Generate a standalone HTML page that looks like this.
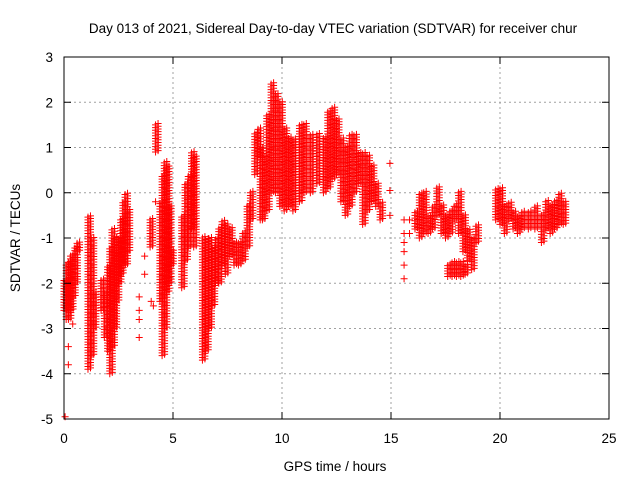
<!DOCTYPE html>
<html><head><meta charset="utf-8">
<style>
html,body{margin:0;padding:0;background:#fff;}
svg{display:block;font-family:"Liberation Sans",sans-serif;}
</style></head>
<body>
<svg id="chart" width="640" height="480" viewBox="0 0 640 480">
<rect width="640" height="480" fill="#fff"/>
<text x="333" y="33" font-size="13.5" text-anchor="middle" fill="#000">Day 013 of 2021, Sidereal Day-to-day VTEC variation (SDTVAR) for receiver chur</text>
<text x="335" y="471" font-size="13.5" text-anchor="middle">GPS time / hours</text>
<text transform="translate(20,238) rotate(-90)" font-size="13.5" text-anchor="middle">SDTVAR / TECUs</text>
<g id="grid"></g>
<g id="marks"></g>
<rect x="64" y="57" width="545" height="362" fill="none" stroke="#000" stroke-width="1"/>
<g id="ticks"></g>
</svg>
<script>
const xTicks = [0, 5, 10, 15, 20, 25];
const yTicks = [3, 2, 1, 0, -1, -2, -3, -4, -5];
// banded series: time (hours), lower and upper SDTVAR per time bin
const binTimes = [0.0,0.1,0.2,0.3,0.4,0.5,0.6, 1.1,1.25,1.35,
 1.7,1.85,2.0,2.1,2.2,2.3,2.4,2.5,2.6,2.7,2.8,2.9,
 3.95,4.2,4.4,4.5,4.6,4.7,4.8,4.9,
 5.4,5.55,5.7,5.85,5.95,
 6.35,6.5,6.65,6.8,6.95,7.1,7.25,7.4,7.6,7.8,8.0,8.2,8.4,8.55,
 8.75,8.9,9.0,9.1,9.3,9.5,9.7,9.9,10.1,10.3,10.5,10.8,11.0,11.3,11.6,11.9,
 12.1,12.3,12.5,12.7,12.9,13.1,13.3,13.5,13.7,13.9,14.1,14.3,14.5,
 16.1,16.3,16.5,16.7,16.9,17.1,17.3,17.5,17.7,17.9,18.1,18.3,18.5,18.7,18.9,
 17.6,17.8,18.0,18.2,18.4,
 19.8,20.0,20.2,20.4,20.6,20.8,21.0,21.3,21.6,21.9,22.1,22.3,22.5,22.7,22.9];
const binLow = [-2.6,-2.8,-2.8,-2.6,-2.3,-2.0,-1.3, -3.9,-3.6,-3.0,
 -2.6,-3.2,-3.5,-4.0,-3.4,-3.0,-2.4,-2.0,-1.8,-1.6,-1.6,-1.3,
 -1.2,0.9,-2.4,-3.6,-3.0,-2.2,-2.0,-1.6,
 -2.1,-1.5,-1.2,-0.8,-1.2,
 -3.7,-3.5,-3.0,-2.5,-2.0,-2.0,-1.6,-1.8,-1.4,-1.6,-1.6,-1.5,-1.2,-0.6,
 0.4,0.8,-0.6,-0.6,-0.4,0.0,0.0,-0.3,-0.4,-0.3,-0.4,-0.2,0.0,0.0,0.2,0.0,
 0.1,0.3,0.4,-0.2,-0.5,-0.3,0.0,0.2,-0.7,-0.4,-0.2,-0.3,-0.6,
 -0.8,-1.0,-0.9,-0.9,-0.8,-0.5,-0.9,-1.0,-0.9,-0.6,-0.9,-1.3,-1.5,-1.7,-1.1,
 -1.85,-1.85,-1.85,-1.85,-1.8,
 -0.6,-0.7,-0.9,-0.6,-0.8,-0.9,-0.8,-0.8,-0.8,-1.1,-0.8,-0.9,-0.8,-0.7,-0.7];
const binHigh = [-1.9,-1.6,-1.5,-1.4,-1.4,-1.2,-1.1, -0.5,-1.0,-2.2,
 -1.9,-2.2,-1.6,-1.2,-0.8,-1.0,-1.3,-1.0,-0.6,-0.2,0.0,-0.4,
 -0.6,1.5,-0.2,0.4,0.7,0.6,-0.3,-1.3,
 -0.5,0.2,0.4,0.9,0.8,
 -1.0,-1.0,-1.0,-1.2,-1.0,-0.8,-0.6,-0.7,-0.8,-1.1,-1.1,-0.9,-0.3,0.0,
 1.3,1.4,1.0,0.8,1.7,2.4,2.2,2.0,1.4,1.2,1.2,1.5,1.5,1.3,1.3,1.2,
 1.8,1.9,1.6,1.2,1.0,1.3,1.3,0.9,0.9,0.8,0.6,0.2,-0.2,
 -0.4,0.0,0.0,-0.5,-0.3,0.1,-0.3,-0.5,-0.4,-0.3,0.0,-0.5,-0.8,-1.0,-0.7,
 -1.6,-1.55,-1.5,-1.55,-1.6,
 0.1,0.1,-0.3,-0.2,-0.4,-0.5,-0.4,-0.4,-0.3,-0.5,-0.2,-0.3,-0.2,0.0,-0.2];
// isolated points
const soloTimes = [0.2,0.2,0.05,0.4, 3.45,3.45,3.45,3.45,3.7,3.7,4.0,4.1,4.2,
 14.95,14.95,14.95,15.6,15.6,15.6,15.6,15.6,15.6,15.85,15.85];
const soloValues = [-3.4,-3.8,-4.95,-2.9, -2.3,-2.6,-2.8,-3.2,-1.4,-1.8,-2.4,-2.5,-0.2,
 0.65,0.05,-0.5,-1.9,-1.6,-1.3,-1.1,-0.9,-0.6,-0.6,-0.9];

const X0=64, X1=609, Y0=57, Y1=419;
function xs(t){return X0+(t-0)/(25-0)*(X1-X0);}
function ys(v){return Y0+(3-v)/(3-(-5))*(Y1-Y0);}
const NS='http://www.w3.org/2000/svg';
const grid=document.getElementById('grid'), ticks=document.getElementById('ticks'), marks=document.getElementById('marks');
function mk(tag,attrs,parent){const e=document.createElementNS(NS,tag);for(const k in attrs)e.setAttribute(k,attrs[k]);parent.appendChild(e);return e;}
xTicks.forEach(t=>{
  const x=xs(t);
  if(t>0&&t<25){const g=mk('line',{x1:x,y1:Y0,x2:x,y2:Y1,stroke:'#a0a0a0','stroke-dasharray':'2,3'},grid);
  
  }
  const a=mk('line',{x1:x,y1:Y1,x2:x,y2:Y1-7,stroke:'#000'},ticks);
  
  
  const b=mk('line',{x1:x,y1:Y0,x2:x,y2:Y0+7,stroke:'#000'},ticks);
  
  
  const l=mk('text',{x:x,y:443,'font-size':'13.5','text-anchor':'middle'},ticks);l.textContent=t;
  
  
});
yTicks.forEach(v=>{
  const y=ys(v);
  if(v<3&&v>-5){const g=mk('line',{x1:X0,y1:y,x2:X1,y2:y,stroke:'#a0a0a0','stroke-dasharray':'2,3'},grid);
  
  }
  const a=mk('line',{x1:X0,y1:y,x2:X0+7,y2:y,stroke:'#000'},ticks);
  
  
  const b=mk('line',{x1:X1,y1:y,x2:X1-7,y2:y,stroke:'#000'},ticks);
  
  
  const l=mk('text',{x:53,y:y+5,'font-size':'13.5','text-anchor':'end'},ticks);l.textContent=v;
  
  
});
function plus(x,y){return 'M'+(x-3.5)+' '+y+'h7M'+x+' '+(y-3.5)+'v7';}
binTimes.forEach((t,i)=>{
  let d='';
  const lo=Math.min(binLow[i],binHigh[i]), hi=Math.max(binLow[i],binHigh[i]);
  for(let v=lo; v<=hi+1e-9; v+=0.06){ d+=plus(xs(t),ys(v)); d+=plus(xs(t)+2.5,ys(v+0.03)); }
  const p=mk('path',{d:d,stroke:'#ff0000','stroke-width':'1',fill:'none'},marks);
  
  
});
soloTimes.forEach((t,i)=>{
  const p=mk('path',{d:plus(xs(t),ys(soloValues[i])),stroke:'#ff0000','stroke-width':'1',fill:'none'},marks);
  
  
});
</script>
</body></html>
